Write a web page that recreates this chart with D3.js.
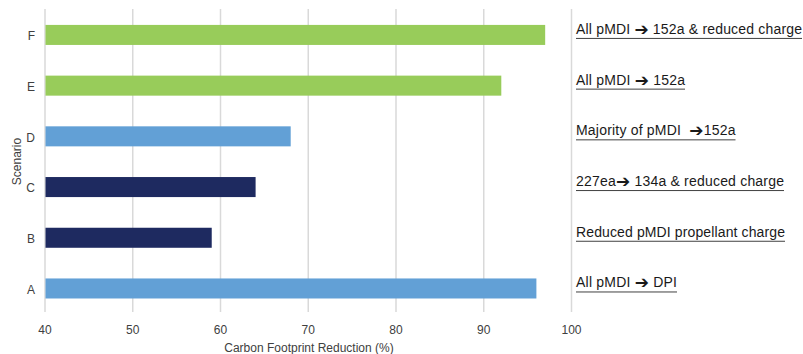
<!DOCTYPE html>
<html><head><meta charset="utf-8">
<script src="https://cdn.jsdelivr.net/npm/d3@7"></script>
<style>body{margin:0;background:#fff}text{font-family:"Liberation Sans",Arial,sans-serif}.lbl{white-space:pre}</style>
</head><body><svg id="c" width="803" height="354"></svg>
<script>
const categories = ["F","E","D","C","B","A"];
const values = [97,92,68,64,59,96];
const groups = ["green","green","lightblue","navy","navy","lightblue"];
const labels = ["All pMDI \u2794 152a & reduced charge","All pMDI \u2794 152a","Majority of pMDI  \u2794152a","227ea\u2794 134a & reduced charge","Reduced pMDI propellant charge","All pMDI \u2794 DPI"];
const xTicks = [40,50,60,70,80,90,100];
const colorMap = {green:"#98cc5a", lightblue:"#62a0d6", navy:"#1e2a60"};
const labelWidths = [226,109,159.5,208,209,101];

const svg = d3.select("#c");
const x = d3.scaleLinear().domain([40,100]).range([45,571.5]);
const y = d3.scaleBand().domain(categories).range([9.7,313.7]).paddingInner(0.605).paddingOuter(0.3);

svg.append("g").selectAll("line").data(xTicks).join("line")
  .attr("x1",d=>x(d)).attr("x2",d=>x(d)).attr("y1",9).attr("y2",312)
  .attr("stroke","#d9d9d9").attr("stroke-width",1.5);

svg.append("g").selectAll("text").data(xTicks).join("text")
  .attr("x",d=>x(d)).attr("y",333.5).attr("text-anchor","middle")
  .attr("font-size",12).attr("fill","#404040").text(d=>d);

svg.append("g").selectAll("rect").data(categories).join("rect")
  .attr("x",x(40)+0.5).attr("y",d=>y(d)).attr("height",y.bandwidth())
  .attr("width",(d,i)=>x(values[i])-x(40)-0.5)
  .attr("fill",(d,i)=>colorMap[groups[i]]);

svg.append("g").selectAll("text").data(categories).join("text")
  .attr("x",35).attr("y",d=>y(d)+y.bandwidth()/2+5.3).attr("text-anchor","end")
  .attr("font-size",12).attr("fill","#404040").text(d=>d);

svg.append("text").attr("transform","translate(20.5,161.5) rotate(-90)")
  .attr("text-anchor","middle").attr("font-size",12).attr("fill","#404040").text("Scenario");

svg.append("text").attr("x",309).attr("y",352).attr("text-anchor","middle")
  .attr("font-size",12).attr("fill","#404040").text("Carbon Footprint Reduction (%)");

const lg = svg.append("g");
categories.forEach((c,i)=>{
  const cy = y(c)+y.bandwidth()/2;
  const t = lg.append("text").attr("class","lbl").attr("x",576).attr("y",cy-1)
    .attr("font-size",14).attr("fill","#1a1a1a")
    .attr("textLength",labelWidths[i]).attr("lengthAdjust","spacing");
  const parts = labels[i].split("\u2794");
  t.append("tspan").text(parts[0]);
  if (parts.length>1) {
    t.append("tspan").attr("font-family","DejaVu Sans").attr("font-size",17).attr("dy",1).text("\u2794");
    t.append("tspan").attr("dy",-1).text(parts[1]);
  }
  lg.append("line").attr("x1",576).attr("x2",576+labelWidths[i])
    .attr("y1",cy+3.5).attr("y2",cy+3.5)
    .attr("stroke","#404040").attr("stroke-width",1);
});
</script></body></html>
